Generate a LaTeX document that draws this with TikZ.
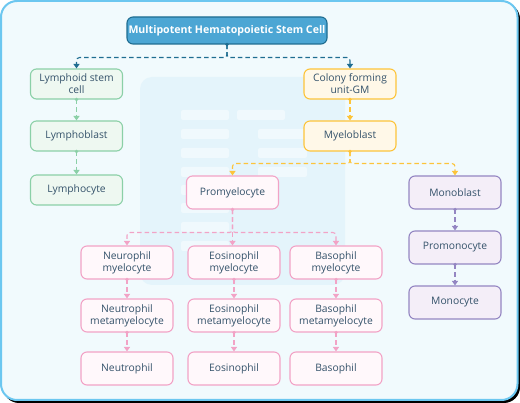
\documentclass[tikz,border=0pt]{standalone}
\usepackage{fontspec}
\setmainfont{Open Sans}
\usetikzlibrary{arrows.meta,calc}
\definecolor{bgc}{HTML}{F1FAFD}
\definecolor{framec}{HTML}{6CC7F0}
\definecolor{wmc}{HTML}{E4F4FB}
\definecolor{wmbar}{HTML}{F0F9FD}
\definecolor{txtc}{HTML}{34526A}
\definecolor{bluef}{HTML}{4CA6D4}
\definecolor{blued}{HTML}{1F6D91}
\definecolor{greend}{HTML}{8BD0A7}
\definecolor{greenf}{HTML}{EEF8F1}
\definecolor{yeld}{HTML}{FDC43A}
\definecolor{yelf}{HTML}{FFF8E8}
\definecolor{pinkd}{HTML}{F2A3C6}
\definecolor{pinkf}{HTML}{FFF8FB}
\definecolor{purd}{HTML}{9486C2}
\definecolor{purf}{HTML}{F4EEF8}
\tikzset{
  box/.style={rounded corners=6pt, line width=1.1pt, minimum width=92pt, align=center,
    text=txtc, font=\fontsize{10.3}{12.2}\selectfont, inner sep=1pt},
  greenbox/.style={box, draw=greend, fill=greenf, minimum height=30pt},
  yelbox/.style={box, draw=yeld, fill=yelf, minimum height=30pt},
  pinkbox/.style={box, draw=pinkd, fill=pinkf, minimum height=33pt},
  purbox/.style={box, draw=purd, fill=purf, minimum height=33pt},
  conn/.style={line width=1.1pt, dash pattern=on 4.5pt off 3pt, rounded corners=3pt,
    -{Triangle[length=4.5pt,width=6pt]}},
}
\begin{document}
\begin{tikzpicture}[x=1pt,y=-1pt]
\useasboundingbox (0,0) rectangle (520,403);
\fill[white] (0,0) rectangle (520,403);
\fill[black] (3,3) [rounded corners=16pt] rectangle (520,403);
\draw[framec, line width=2pt, fill=bgc, rounded corners=16pt] (1,1) rectangle (517.5,400);
% watermark
\fill[wmc, rounded corners=12pt] (140,77) rectangle (345,285);
\foreach \yy in {110,129,148,167,185,203,222,241}
  \fill[wmbar, rounded corners=2pt] (181,\yy) rectangle (229,\yy+10);
\fill[wmbar, rounded corners=2pt] (237,110) rectangle (285,120);
\foreach \yy in {129,148,167}
  \fill[wmbar, rounded corners=2pt] (258,\yy) rectangle (307,\yy+10);
% nodes
\node[box, draw=blued, fill=bluef, text=white, minimum width=200pt, minimum height=27pt,
  font=\fontsize{10.6}{12}\selectfont\bfseries] (hsc) at (227,30.5) {Multipotent Hematopoietic Stem Cell};
\node[greenbox] (lsc) at (76.5,84) {Lymphoid stem\\cell};
\node[greenbox] (lb) at (76.5,136) {Lymphoblast};
\node[greenbox] (lc) at (76.5,190) {Lymphocyte};
\node[yelbox] (cfu) at (350,84) {Colony forming\\unit-GM};
\node[yelbox] (mb) at (350,136) {Myeloblast};
\node[pinkbox] (pm) at (232.5,192.5) {Promyelocyte};
\node[purbox] (mob) at (455,192.5) {Monoblast};
\node[purbox] (pmo) at (455,247.5) {Promonocyte};
\node[purbox] (mo) at (455,302.5) {Monocyte};
\node[pinkbox] (nm) at (127,262.5) {Neurophil\\myelocyte};
\node[pinkbox] (nmm) at (127,315.5) {Neutrophil\\metamyelocyte};
\node[pinkbox] (n) at (127,368.5) {Neutrophil};
\node[pinkbox] (em) at (234,262.5) {Eosinophil\\myelocyte};
\node[pinkbox] (emm) at (234,315.5) {Eosinophil\\metamyelocyte};
\node[pinkbox] (e) at (234,368.5) {Eosinophil};
\node[pinkbox] (bm) at (336,262.5) {Basophil\\myelocyte};
\node[pinkbox] (bmm) at (336,315.5) {Basophil\\metamyelocyte};
\node[pinkbox] (b) at (336,368.5) {Basophil};
% connectors
\draw[conn, blued] (hsc.south) -- ++(0,13) -| (lsc.north);
\draw[conn, blued] (hsc.south) -- ++(0,13) -| (cfu.north);
\fill[blued] (hsc.south) circle (1.8pt);
\draw[conn, greend] (lsc.south) -- (lb.north); \fill[greend] (lsc.south) circle (1.8pt);
\draw[conn, greend] (lb.south) -- (lc.north); \fill[greend] (lb.south) circle (1.8pt);
\draw[conn, yeld] (cfu.south) -- (mb.north); \fill[yeld] (cfu.south) circle (1.8pt);
\draw[conn, yeld] (mb.south) -- ++(0,12) -| (pm.north);
\draw[conn, yeld] (mb.south) -- ++(0,12) -| (mob.north);
\fill[yeld] (mb.south) circle (1.8pt);
\draw[conn, purd] (mob.south) -- (pmo.north); \fill[purd] (mob.south) circle (1.8pt);
\draw[conn, purd] (pmo.south) -- (mo.north); \fill[purd] (pmo.south) circle (1.8pt);
\draw[conn, pinkd] (pm.south) -- ++(0,23) -| (nm.north);
\draw[conn, pinkd] (pm.south) -- ++(0,23) -| (bm.north);
\draw[conn, pinkd] (pm.south) -- (pm.south |- em.north);
\fill[pinkd] (pm.south) circle (1.8pt);
\foreach \a/\b in {nm/nmm, nmm/n, em/emm, emm/e, bm/bmm, bmm/b}{
  \draw[conn, pinkd] (\a.south) -- (\b.north); \fill[pinkd] (\a.south) circle (1.8pt);
}
\end{tikzpicture}
\end{document}
